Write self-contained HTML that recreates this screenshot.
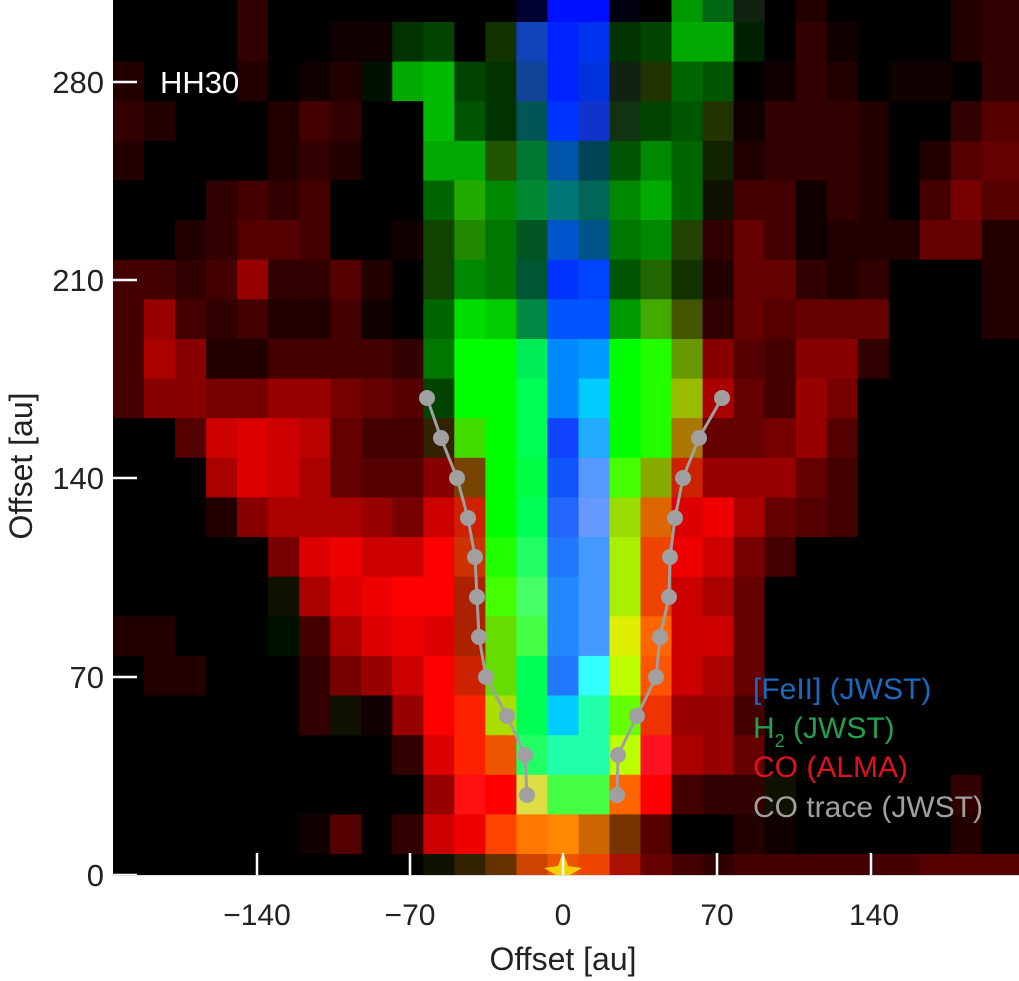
<!DOCTYPE html>
<html><head><meta charset="utf-8"><style>
html,body{margin:0;padding:0;background:#fff;}
svg{display:block;}
text{font-family:"Liberation Sans",sans-serif;}
</style></head><body>
<svg id="s" width="1019" height="981" viewBox="0 0 1019 981" xmlns="http://www.w3.org/2000/svg">
<g id="cells"></g>
<g id="ov">
<polyline points="427,398 441,438 457,478 468,518 475,557 477,597 479,637 486,677 507,716 525,755 527,795" fill="none" stroke="#a0a0a0" stroke-width="3"/>
<polyline points="722,398 699,438 683,478 675,518 670,557 669,597 660,637 656,677 637,716 618,755 617,795" fill="none" stroke="#a0a0a0" stroke-width="3"/>
<g fill="#a0a0a0">
<circle cx="427" cy="398" r="8"/><circle cx="441" cy="438" r="8"/><circle cx="457" cy="478" r="8"/><circle cx="468" cy="518" r="8"/><circle cx="475" cy="557" r="8"/><circle cx="477" cy="597" r="8"/><circle cx="479" cy="637" r="8"/><circle cx="486" cy="677" r="8"/><circle cx="507" cy="716" r="8"/><circle cx="525" cy="755" r="8"/><circle cx="527" cy="795" r="8"/>
<circle cx="722" cy="398" r="8"/><circle cx="699" cy="438" r="8"/><circle cx="683" cy="478" r="8"/><circle cx="675" cy="518" r="8"/><circle cx="670" cy="557" r="8"/><circle cx="669" cy="597" r="8"/><circle cx="660" cy="637" r="8"/><circle cx="656" cy="677" r="8"/><circle cx="637" cy="716" r="8"/><circle cx="618" cy="755" r="8"/><circle cx="617" cy="795" r="8"/>
</g>
<polygon points="563,852 568,866 582,868 570,875 556,875 544,868 558,866" fill="#f5d000"/>
<g stroke="#fff" stroke-width="2.5">
<line x1="257" y1="853" x2="257" y2="875"/><line x1="410" y1="853" x2="410" y2="875"/><line x1="563" y1="853" x2="563" y2="875"/><line x1="717" y1="853" x2="717" y2="875"/><line x1="871" y1="853" x2="871" y2="875"/>
<line x1="113" y1="82" x2="137" y2="82"/><line x1="113" y1="280" x2="137" y2="280"/><line x1="113" y1="478" x2="137" y2="478"/><line x1="113" y1="677" x2="137" y2="677"/><line x1="113" y1="875" x2="137" y2="875"/>
</g>
<line x1="113" y1="875.5" x2="1019" y2="875.5" stroke="#ddd" stroke-width="1"/>
<text x="160" y="93" fill="#fff" font-size="31">HH30</text>
<g font-size="30">
<text x="753" y="699" fill="#1a6ac0">[FeII] (JWST)</text>
<text x="753" y="738" fill="#20a050">H<tspan font-size="18" dy="9">2</tspan><tspan dy="-9"> (JWST)</tspan></text>
<text x="753" y="777" fill="#e01020">CO (ALMA)</text>
<text x="753" y="817" fill="#a0a0a0">CO trace (JWST)</text>
</g>
<g font-size="31" fill="#222" text-anchor="end">
<text x="104" y="93">280</text><text x="104" y="291">210</text><text x="104" y="489">140</text><text x="104" y="688">70</text><text x="104" y="886">0</text>
</g>
<g font-size="30" fill="#222" text-anchor="middle">
<text x="257" y="925">−140</text><text x="410" y="925">−70</text><text x="563" y="925">0</text><text x="717" y="925">70</text><text x="874" y="925">140</text>
<text x="563" y="970" font-size="32">Offset [au]</text>
<text transform="translate(32,466) rotate(-90)" font-size="32">Offset [au]</text>
</g>
</g>
</svg>
<script>
var R=[
"000,000,000,000,300,000,000,000,000,000,000,000,000,003,01f,01f,001,000,090,061,121,000,200,000,000,000,000,200,300",
"000,000,000,000,300,000,000,100,100,030,040,000,130,14b,02f,03e,030,040,0a0,0a0,020,000,300,100,000,000,000,200,300",
"200,000,000,000,200,000,100,200,010,0a0,0b0,040,030,149,02f,03d,121,230,060,050,000,100,300,200,000,100,100,000,300",
"300,200,000,000,000,200,400,300,000,000,0b0,050,030,055,03f,13c,131,040,050,230,100,300,300,300,200,000,000,300,500",
"200,000,000,000,000,200,300,200,000,000,0a0,0a0,250,073,05a,045,050,080,060,120,200,300,300,300,200,000,200,500,600",
"000,000,000,300,400,300,400,000,000,000,060,2a0,080,083,077,065,080,0a0,060,110,400,400,100,300,200,000,400,700,500",
"000,000,200,300,500,500,400,000,000,100,140,280,070,052,05c,058,070,080,240,300,600,400,100,200,200,200,600,600,200",
"400,400,300,400,900,300,300,500,200,000,140,080,070,053,03f,04f,050,260,130,200,600,600,300,200,300,000,000,000,200",
"400,900,400,300,400,200,200,400,100,000,060,0d0,0c0,084,05f,05f,090,4a0,450,300,600,500,600,600,600,000,000,000,200",
"400,a00,800,200,200,400,400,400,400,300,070,0f0,0f0,0e5,08f,09f,0f0,2f0,690,800,500,400,800,800,300,000,000,000,000",
"400,800,800,700,700,900,900,700,600,500,040,0f0,0f0,0f5,08f,0cf,0f0,2f0,9b0,a00,600,400,900,700,000,000,000,000,000",
"000,000,500,c00,d00,c00,b00,600,400,400,320,4d0,0f0,0f5,14f,2af,0f0,2f0,a70,600,600,700,900,500,000,000,000,000,000",
"000,000,000,a00,d00,c00,a00,600,500,500,800,740,0f0,0f4,15f,59f,4f0,8a0,c20,900,900,900,600,400,000,000,000,000,000",
"000,000,000,200,800,a00,a00,a00,900,700,c00,c20,0f0,0f5,26f,69f,9d0,d60,d00,e00,a00,600,500,400,000,000,000,000,000",
"000,000,000,000,000,700,d00,e00,c00,c00,f00,c30,2f0,2f6,27f,49f,ae0,e40,e00,c00,700,400,000,000,000,000,000,000,000",
"000,000,000,000,000,110,a00,d00,e00,f00,f00,a20,4f0,4f6,28f,49f,ae0,e40,c00,a00,600,000,000,000,000,000,000,000,000",
"200,200,000,000,000,010,400,a00,d00,e00,d00,a20,6d0,4f4,28f,49f,de0,f60,c00,c00,600,000,000,000,000,000,000,000,000",
"000,200,200,000,000,000,300,700,900,c00,f00,c20,6d0,0f5,27f,3ff,bf0,f50,c00,a00,600,000,000,000,000,000,000,000,000",
"000,000,000,000,000,000,300,110,100,900,f00,f20,ad0,0f5,0cf,2fa,6f0,e30,900,900,400,000,000,000,000,000,000,000,000",
"000,000,000,000,000,000,000,000,000,300,d00,f20,e50,2f6,2fa,2fa,bf0,f12,a00,900,600,000,000,000,000,000,000,000,000",
"000,000,000,000,000,000,000,000,000,000,900,f11,f00,dd4,4f4,4f4,f60,f00,400,300,300,110,000,000,000,000,000,300,000",
"000,000,000,000,000,000,100,500,000,300,c00,e00,f40,f70,f80,c60,730,500,000,000,200,100,000,000,000,000,000,200,000",
"000,000,000,000,000,000,000,000,000,000,110,320,630,c40,e50,e40,a10,600,400,300,400,400,400,400,400,400,500,500,500"
];
var g=document.getElementById('cells'),h="";
var top0=22,rh=39.62;
for(var r=0;r<R.length;r++){
 var y0,y1;
 if(r==0){y0=0;y1=22;}else{y0=top0+(r-1)*rh;y1=(r==22)?875:top0+r*rh;}
 var cs=R[r].split(",");
 for(var c=0;c<29;c++){
  var x0=113+c*31.03,x1=(c==28)?1019:113+(c+1)*31.03;
  h+='<rect x="'+x0.toFixed(1)+'" y="'+y0.toFixed(1)+'" width="'+(x1-x0+0.6).toFixed(1)+'" height="'+(y1-y0+0.6).toFixed(1)+'" fill="#'+cs[c]+'"/>';
 }
}
g.innerHTML=h;
</script>
</body></html>
